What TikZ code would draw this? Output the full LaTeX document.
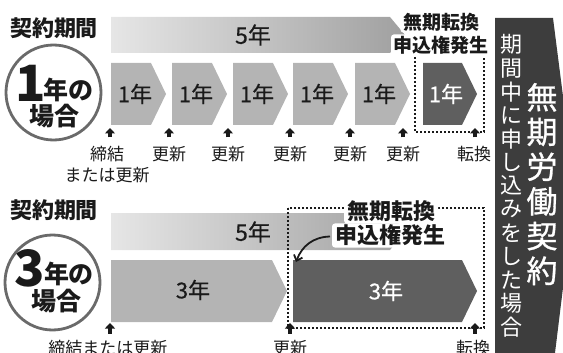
\documentclass[tikz,border=0pt]{standalone}
\usepackage{fontspec}
\setmainfont{Noto Sans CJK JP}
\newfontfamily\jpmed[FakeBold=0.9]{Noto Sans CJK JP}
\newfontfamily\jpsemi[FakeBold=0.5]{Noto Sans CJK JP}
\usetikzlibrary{arrows.meta}
\definecolor{barL}{HTML}{E6E6E6}
\definecolor{barR}{HTML}{A0A0A0}
\definecolor{chevL}{HTML}{B4B4B4}
\definecolor{chevD}{HTML}{5F5F5F}
\definecolor{blockc}{HTML}{3D3D3D}
\definecolor{ringc}{HTML}{6A6A6A}
\definecolor{inkc}{HTML}{1A1A1A}
\newcommand\chevshape[6]{\fill[#1] (#2,#5) -- (#3,#5) -- (#4,{(#5+#6)/2}) -- (#3,#6) -- (#2,#6) -- cycle;}
\tikzset{
  every node/.style={inner sep=0pt, outer sep=0pt},
  ttl/.style={font=\fontsize{22}{24}\selectfont\bfseries, text=inkc},
  lbl/.style={font=\fontsize{17}{22}\selectfont, text=inkc},
  yrb/.style={font=\fontsize{22}{24}\selectfont\jpsemi, text=inkc},
  yrw/.style={font=\fontsize{22}{24}\selectfont\jpsemi, text=white},
  fiveyr/.style={font=\fontsize{23}{25}\selectfont\jpsemi, text=inkc},
  bigdigit/.style={font=\fontsize{50}{52}\selectfont\bfseries, text=inkc},
  circtxt/.style={font=\fontsize{25}{27}\selectfont\bfseries, text=inkc},
  ringline/.style={draw=ringc, line width=2.8pt},
  boxdots/.style={draw=inkc, line width=1.8pt, dash pattern=on 1.8pt off 2.2pt},
  uparr/.style={draw=inkc, line width=3.2pt, -{Triangle[width=10pt,length=5.5pt]}},
  notetop/.style={font=\fontsize{19}{23}\selectfont\bfseries, text=inkc, fill=white, inner xsep=2.5pt, inner ysep=1.5pt, rounded corners=3pt},
  notebot/.style={font=\fontsize{22}{24}\selectfont\bfseries, text=inkc, fill=white, inner xsep=3pt, inner ysep=1.5pt, rounded corners=3pt},
  vsmall/.style={font=\fontsize{22}{24}\selectfont, text=white},
  vbig/.style={font=\fontsize{31}{33}\selectfont\jpmed, text=white},
}
\begin{document}
\begin{tikzpicture}[x=1pt,y=-1pt]
\useasboundingbox (0,0) rectangle (563,353);
% ---------- right block ----------
\begin{scope}
\clip (0,0) rectangle (563,353);
\fill[blockc] (495,18) -- (553,18) -- (575,190) -- (555,353) -- (495,353) -- cycle;
\end{scope}
\foreach \c [count=\i] in {期,間,中,に,申,し,込,み,を,し,た,場,合}
  \node[vsmall] (vs\i) at (511,{21.3+23.5*\i}) {\c};
\foreach \c [count=\i] in {無,期,労,働,契,約}
  \node[vbig] (vb\i) at (542,{62.6+34.7*\i}) {\c};
% ---------- top section ----------
\node[ttl] (t1) at (54,28.5) {契約期間};
\shade[left color=barL, right color=barR] (111,17) -- (390,17) -- (405,35) -- (390,53) -- (111,53) -- cycle;
\node[fiveyr] (f1) at (253,35) {5年};
\draw[ringline] (53.5,92.5) circle[radius=47.5pt];
\node[bigdigit] (c1d) at (30.5,83.5) {1};
\node[circtxt] (c1a) at (68.5,90) {年の};
\node[circtxt] (c1b) at (55,116) {場合};
\foreach \x [count=\i] in {111,172,233,293,355}{
  \chevshape{chevL}{\x}{\x+40}{\x+55}{63}{125}
  \node[yrb] (y\i) at (\x+24,94) {1年};
}
\chevshape{chevD}{423}{462}{477}{63}{125}
\node[yrw] (y6) at (446,94) {1年};
\draw[boxdots] (415,57) -- (415,132) -- (484,132) -- (484,57);
\foreach \x [count=\i] in {110,169,228,290,350,403,475}{
  \coordinate (ta\i) at (\x,137.5);
  \coordinate (tb\i) at (\x,128);
  \draw[uparr] (ta\i) -- (tb\i);
}
\node[lbl] (l1a) at (107,154) {締結};
\node[lbl] (l1b) at (107,175) {または更新};
\foreach \x [count=\i] in {169,228,290,350,403}
  \node[lbl] (lu\i) at (\x,154) {更新};
\node[lbl] (lt1) at (474,154) {転換};
\node[notetop] (n1a) at (441,22) {無期転換};
\node[notetop] (n1b) at (441,45) {申込権発生};
% ---------- bottom section ----------
\node[ttl] (t2) at (54,210) {契約期間};
\shade[left color=barL, right color=barR] (111,213) -- (390,213) -- (405,231.5) -- (390,250) -- (111,250) -- cycle;
\node[fiveyr] (f2) at (253,232) {5年};
\draw[ringline] (52.5,282.5) circle[radius=47.5pt];
\node[bigdigit] (c2d) at (30,268.5) {3};
\node[circtxt] (c2a) at (69,274) {年の};
\node[circtxt] (c2b) at (56,301) {場合};
\chevshape{chevL}{111}{272}{287}{260}{322}
\node[yrb] (y7) at (193,290) {3年};
\chevshape{chevD}{293}{462}{477}{260}{322}
\node[yrw] (y8) at (386,291) {3年};
\draw[boxdots] (288,208) rectangle (484,328);
\foreach \x [count=\i] in {110,290,475}{
  \coordinate (ba\i) at (\x,333.5);
  \coordinate (bb\i) at (\x,323);
  \draw[uparr] (ba\i) -- (bb\i);
}
\node[lbl] (l2a) at (108,348) {締結または更新};
\node[lbl] (l2b) at (290,348) {更新};
\node[lbl] (l2c) at (473,348) {転換};
\node[notebot] (n2a) at (391,211.5) {無期転換};
\node[notebot] (n2b) at (390,235.5) {申込権発生};
\coordinate (ce) at (296,262);
\draw[inkc, line width=1.8pt, -{Straight Barb[length=5pt,width=9pt]}] (n2b.west) ++(-2,1) .. controls (313,237) and (302,246) .. (ce);
\end{tikzpicture}
\end{document}
